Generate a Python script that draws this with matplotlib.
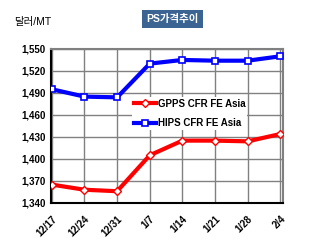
import matplotlib
matplotlib.use("Agg")
import matplotlib.pyplot as plt
from matplotlib.ticker import FuncFormatter

# data
dates = ["12/17", "12/24", "12/31", "1/7", "1/14", "1/21", "1/28", "2/4"]
gpps = [1365, 1358, 1356, 1405, 1425, 1425, 1424, 1434]
hips = [1495, 1485, 1484, 1530, 1535, 1534, 1534, 1540]
y_ticks = [1340, 1370, 1400, 1430, 1460, 1490, 1520, 1550]

plt.rcParams["font.family"] = ["Liberation Sans", "Noto Sans CJK KR", "DejaVu Sans"]

fig = plt.figure(figsize=(3.2, 2.46), dpi=100)
ax = fig.add_axes([0.159, 0.175, 0.725, 0.626])

x = list(range(len(dates)))
ax.plot(x, gpps, color="#FF0000", lw=3, marker="D", ms=4.5,
        mfc="white", mec="#FF0000", mew=1, label="GPPS CFR FE Asia", zorder=3)
ax.plot(x, hips, color="#0000FF", lw=3, marker="s", ms=5,
        mfc="white", mec="#0000FF", mew=1.2, label="HIPS CFR FE Asia", zorder=3)

ax.set_xlim(-0.03, 7.08)
ax.set_ylim(1340, 1550)
ax.set_xticks(x)
ax.set_xticklabels(dates, rotation=45, ha="right", rotation_mode="anchor",
                   fontsize=7, fontweight="bold")
ax.set_yticks(y_ticks)
ax.yaxis.set_major_formatter(FuncFormatter(lambda v, p: f"{int(v):,}"))
for lbl in ax.get_yticklabels():
    lbl.set_fontsize(7)
    lbl.set_fontweight("bold")
ax.tick_params(axis="both", length=0, pad=4)
ax.tick_params(axis="x", pad=8)

ax.grid(True, color="#808080", lw=1)
ax.set_axisbelow(True)
for side in ["top", "right"]:
    ax.spines[side].set_color("#808080")
    ax.spines[side].set_linewidth(1.5)
for side in ["left", "bottom"]:
    ax.spines[side].set_color("black")
    ax.spines[side].set_linewidth(1.5)

leg = ax.legend(loc="center left", bbox_to_anchor=(0.33, 0.58), frameon=True,
                fontsize=7, handlelength=2.2, handletextpad=0.2,
                labelspacing=1.0, borderpad=0.2)
leg.get_frame().set_edgecolor("none")
leg.get_frame().set_facecolor("white")
leg.get_frame().set_alpha(1)
for t in leg.get_texts():
    t.set_fontweight("bold")

fig.text(0.54, 0.923, "PS가격추이", color="white", fontsize=7.5, fontweight="bold",
         ha="center", va="center",
         bbox=dict(boxstyle="square,pad=0.4", fc="#3C6493", ec="none"))
fig.text(0.045, 0.91, "달러/MT", fontsize=7.5, ha="left", va="center")

fig.savefig("out.png", dpi=100)
